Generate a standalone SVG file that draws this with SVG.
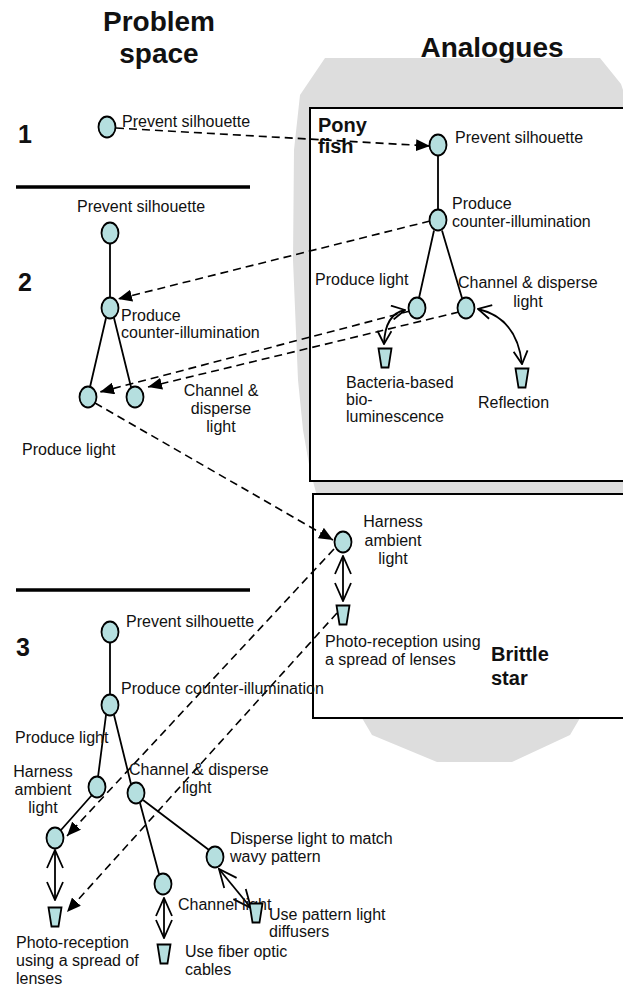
<svg xmlns="http://www.w3.org/2000/svg" width="623" height="987" viewBox="0 0 623 987">
<style>
text{font-family:"Liberation Sans",Arial,sans-serif;font-size:16px;fill:#111}
.h{font-size:28px;font-weight:bold}
.num{font-size:25px;font-weight:bold}
.b{font-size:20px;font-weight:bold}
.m{text-anchor:middle}
.node{fill:#b5dfdf;stroke:#000;stroke-width:1.8}
.edge{stroke:#000;stroke-width:1.8;fill:none}
.dash{stroke:#000;stroke-width:1.6;fill:none;stroke-dasharray:8 5}
.dbl{stroke:#000;stroke-width:1.8;fill:none;marker-start:url(#oa);marker-end:url(#oa)}
.dbls{stroke:#000;stroke-width:1.8;fill:none;marker-start:url(#oas);marker-end:url(#oas)}
.box{fill:#fff;stroke:#000;stroke-width:2}
</style>
<defs>
<marker id="fa" viewBox="0 -6 14 12" refX="14" refY="0" markerWidth="14" markerHeight="12" markerUnits="userSpaceOnUse" orient="auto"><path d="M0,-6 L14,0 L0,6 Z" fill="#000"/></marker>
<marker id="oa" viewBox="-1 -9 20 18" refX="18" refY="0" markerWidth="20" markerHeight="18" markerUnits="userSpaceOnUse" orient="auto-start-reverse"><path d="M0,-8 L18,0 L0,8" fill="none" stroke="#000" stroke-width="1.8"/></marker>
<marker id="oas" viewBox="-1 -8 15 16" refX="13" refY="0" markerWidth="15" markerHeight="16" markerUnits="userSpaceOnUse" orient="auto-start-reverse"><path d="M0,-7 L13,0 L0,7" fill="none" stroke="#000" stroke-width="1.8"/></marker>
<path id="cup" d="M-6.5,-9.5 L6.5,-9.5 L3.5,9.5 L-3.5,9.5 Z"/>
</defs>

<g id="background">
<path d="M325,58 L600,58 L621,84 L623,90 L623,718 L580,718 L570,735 L512,762 L437,762 L372,735 L362,718 L330,600 L318,500 L310,470 L303,430 L298,380 L293,260 L294,150 L300,95 Z" fill="#dddddd"/>
<rect class="box" x="310" y="108" width="330" height="373"/>
<rect class="box" x="313" y="494" width="330" height="224"/>
<path d="M16,187 L250,187 M16,590 L250,590" stroke="#000" stroke-width="3.5"/>
</g>

<g id="titles">
<text class="h m" x="159" y="31">Problem</text>
<text class="h m" x="159" y="63">space</text>
<text class="h m" x="492" y="57">Analogues</text>
<text class="num" x="18" y="143">1</text>
<text class="num" x="18" y="291">2</text>
<text class="num" x="16" y="656">3</text>
<text class="b" x="318" y="132">Pony</text>
<text class="b" x="318" y="153">fish</text>
<text class="b" x="491" y="661">Brittle</text>
<text class="b" x="491" y="685">star</text>
</g>

<g id="connectors">
<path class="edge" d="M438,155.5 L438,209.5 M434,230.5 L419,298 M442,230.5 L462,298"/>
<path class="edge" d="M110,243.5 L110,297.5 M106,318 L90,387 M114,318 L131,387"/>
<path class="edge" d="M110,642.5 L110,694.5 M106,715 L98,777 M114,715 L131,784 M92,795 L61,830 M140,803 L159,874 M143,800 L209,850"/>
<path class="dbls" d="M405,310 Q385,314 384,344"/>
<path class="dbls" d="M478,309 Q517,318 522,364"/>
<path class="dbl" d="M343,556 L343,601"/>
<path class="dbl" d="M55,850 L55,900"/>
<path class="dbl" d="M164,898 L164,938"/>
<path class="dbl" d="M219,869 L251,908"/>
<path class="dash" d="M116,128 L430,146" marker-end="url(#fa)"/>
<path class="dash" d="M430,221 L118,299" marker-end="url(#fa)"/>
<path class="dash" d="M410,311 L100,392" marker-end="url(#fa)"/>
<path class="dash" d="M459,312 L148,387" marker-end="url(#fa)"/>
<path class="dash" d="M95,403 L333,540" marker-end="url(#fa)"/>
<path class="dash" d="M334,549 L67,836" marker-end="url(#fa)"/>
<path class="dash" d="M337,613 L67,912" marker-end="url(#fa)"/>
</g>

<g id="s1-prevent"><ellipse class="node" cx="107" cy="127" rx="8.5" ry="10.5"/><text x="122" y="127">Prevent silhouette</text></g>

<g id="pf-prevent"><ellipse class="node" cx="438" cy="145" rx="8.5" ry="10.5"/><text x="455" y="143">Prevent silhouette</text></g>
<g id="pf-counter"><ellipse class="node" cx="438" cy="220" rx="8.5" ry="10.5"/><text x="452" y="209">Produce</text><text x="452" y="227">counter-illumination</text></g>
<g id="pf-light"><ellipse class="node" cx="417" cy="308" rx="8.5" ry="10.5"/><text x="315" y="285">Produce light</text></g>
<g id="pf-channel"><ellipse class="node" cx="466" cy="308" rx="8.5" ry="10.5"/><text x="458" y="288">Channel &amp; disperse</text><text class="m" x="528" y="307">light</text></g>
<g id="pf-bacteria"><use href="#cup" class="node" x="385" y="358"/><text x="346" y="388">Bacteria-based</text><text x="346" y="405">bio-</text><text x="346" y="422">luminescence</text></g>
<g id="pf-reflection"><use href="#cup" class="node" x="522" y="378"/><text x="478" y="408">Reflection</text></g>

<g id="s2-prevent"><ellipse class="node" cx="110" cy="233" rx="8.5" ry="10.5"/><text class="m" x="141" y="212">Prevent silhouette</text></g>
<g id="s2-counter"><ellipse class="node" cx="110" cy="308" rx="8.5" ry="10.5"/><text x="121" y="321">Produce</text><text x="121" y="338">counter-illumination</text></g>
<g id="s2-light"><ellipse class="node" cx="88" cy="397" rx="8.5" ry="10.5"/><text x="22" y="455">Produce light</text></g>
<g id="s2-channel"><ellipse class="node" cx="135" cy="397" rx="8.5" ry="10.5"/><text class="m" x="221" y="396">Channel &amp;</text><text class="m" x="221" y="414">disperse</text><text class="m" x="221" y="432">light</text></g>

<g id="bs-harness"><ellipse class="node" cx="343" cy="542" rx="8.5" ry="10.5"/><text class="m" x="393" y="527">Harness</text><text class="m" x="393" y="546">ambient</text><text class="m" x="393" y="564">light</text></g>
<g id="bs-photo"><use href="#cup" class="node" x="343" y="615"/><text x="325" y="647">Photo-reception using</text><text x="325" y="665">a spread of lenses</text></g>

<g id="s3-prevent"><ellipse class="node" cx="110" cy="632" rx="8.5" ry="10.5"/><text x="126" y="627">Prevent silhouette</text></g>
<g id="s3-counter"><ellipse class="node" cx="110" cy="705" rx="8.5" ry="10.5"/><text x="121" y="694">Produce counter-illumination</text></g>
<g id="s3-harness"><ellipse class="node" cx="97" cy="787" rx="8.5" ry="10.5"/><text x="15" y="743">Produce light</text><text class="m" x="43" y="777">Harness</text><text class="m" x="43" y="795">ambient</text><text class="m" x="43" y="813">light</text></g>
<g id="s3-channel"><ellipse class="node" cx="136" cy="793" rx="8.5" ry="10.5"/><text x="129" y="775">Channel &amp; disperse</text><text x="182" y="793">light</text></g>
<g id="s3-photo-node"><ellipse class="node" cx="55" cy="838" rx="8.5" ry="10.5"/></g>
<g id="s3-photo"><use href="#cup" class="node" x="55" y="917"/><text x="16" y="948">Photo-reception</text><text x="16" y="966">using a spread of</text><text x="16" y="984">lenses</text></g>
<g id="s3-channel-light"><ellipse class="node" cx="163" cy="884" rx="8.5" ry="10.5"/><text x="178" y="910">Channel light</text></g>
<g id="s3-fiber"><use href="#cup" class="node" x="164" y="954"/><text x="185" y="957">Use fiber optic</text><text x="185" y="975">cables</text></g>
<g id="s3-disperse"><ellipse class="node" cx="215" cy="857" rx="8.5" ry="10.5"/><text x="230" y="844">Disperse light to match</text><text x="230" y="862">wavy pattern</text></g>
<g id="s3-diffusers"><use href="#cup" class="node" x="256" y="913"/><text x="269" y="920">Use pattern light</text><text x="269" y="937">diffusers</text></g>
</svg>
